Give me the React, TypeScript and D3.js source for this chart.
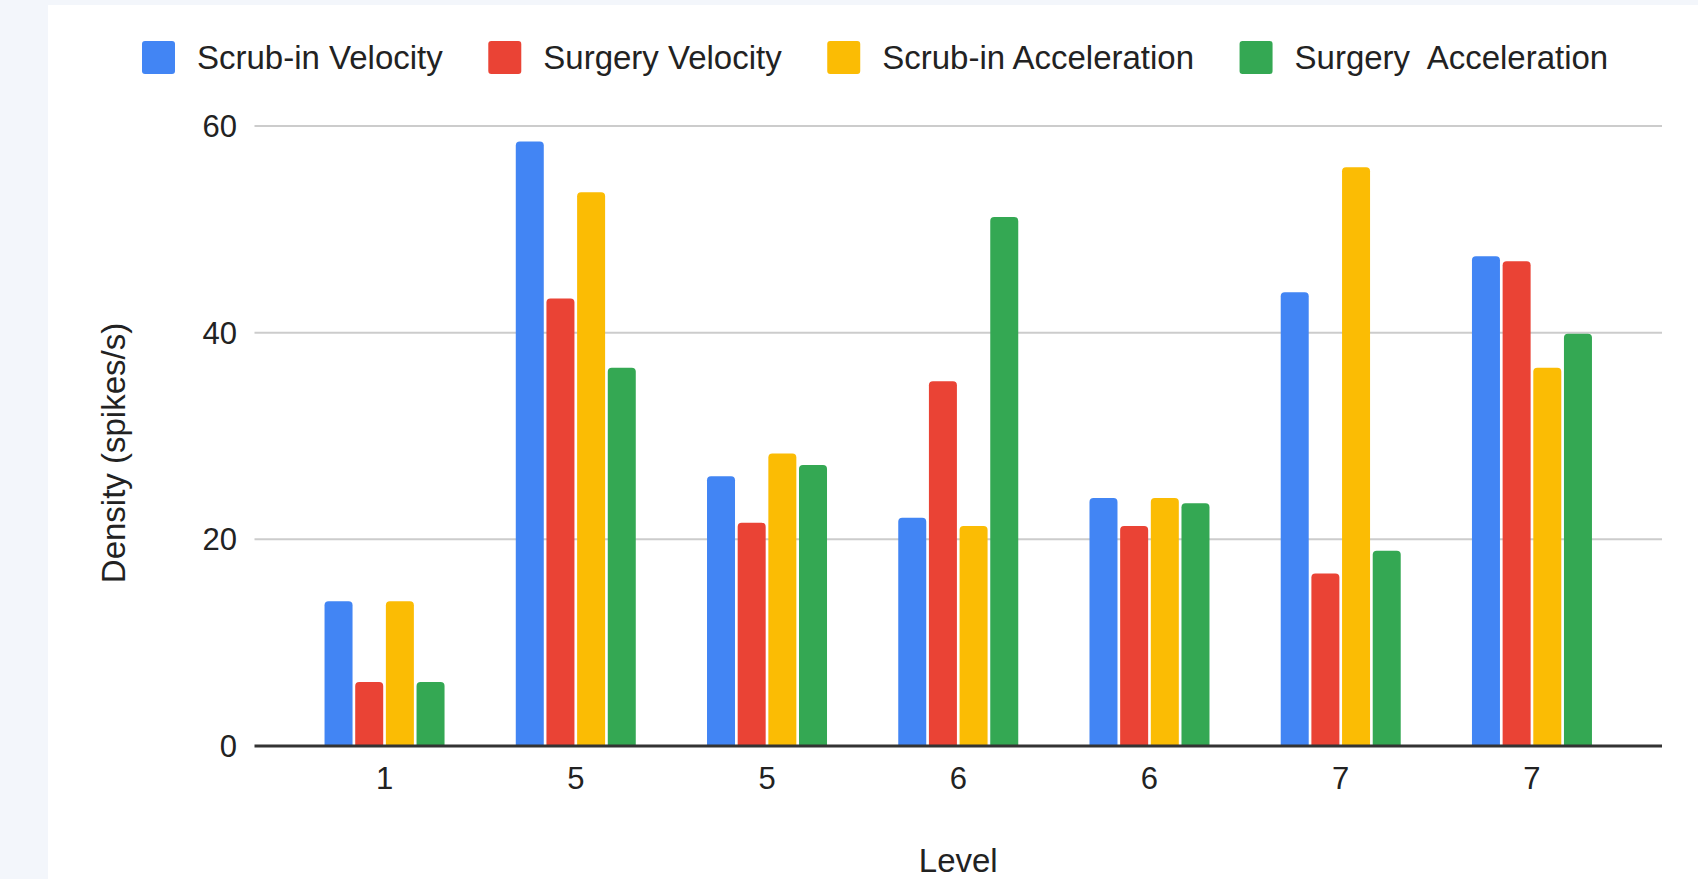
import React, { useEffect, useRef } from "react";
import * as d3 from "d3";

// Chart data
const levels = ["1", "5", "5", "6", "6", "7", "7"];
const seriesNames = [
  "Scrub-in Velocity",
  "Surgery Velocity",
  "Scrub-in Acceleration",
  "Surgery  Acceleration",
];
const seriesColors = ["#4285f4", "#ea4335", "#fbbc04", "#34a853"];
const scrubInVelocity = [14.0, 58.5, 26.1, 22.1, 24.0, 43.9, 47.4];
const surgeryVelocity = [6.2, 43.3, 21.6, 35.3, 21.3, 16.7, 46.9];
const scrubInAcceleration = [14.0, 53.6, 28.3, 21.3, 24.0, 56.0, 36.6];
const surgeryAcceleration = [6.2, 36.6, 27.2, 51.2, 23.5, 18.9, 39.9];
const yTicks = [0, 20, 40, 60];
const xTitle = "Level";
const yTitle = "Density (spikes/s)";

const W = 1698;
const H = 879;
const FONT = "Arial, 'Liberation Sans', Helvetica, sans-serif";

export default function App() {
  const ref = useRef<SVGSVGElement | null>(null);

  useEffect(() => {
    document.body.style.margin = "0";
    const svg = d3.select(ref.current);
    svg.selectAll("*").remove();

    const series = [scrubInVelocity, surgeryVelocity, scrubInAcceleration, surgeryAcceleration];

    // page background and white card
    svg.append("rect").attr("width", W).attr("height", H).attr("fill", "#f3f6fb");
    svg.append("rect").attr("x", 48).attr("y", 5).attr("width", W - 48).attr("height", H - 5).attr("fill", "#ffffff");

    const plot = { left: 254.5, right: 1662, top: 126, bottom: 746 };

    const y = d3.scaleLinear().domain([0, 60]).range([plot.bottom, plot.top]);
    const x0 = d3
      .scaleBand<number>()
      .domain(d3.range(levels.length))
      .range([plot.left, plot.right])
      .paddingInner(0)
      .paddingOuter(0.18);
    const groupWidth = 120;
    const x1 = d3
      .scaleBand<number>()
      .domain(d3.range(series.length))
      .range([0, groupWidth])
      .paddingInner(0.087)
      .paddingOuter(0);

    // gridlines
    svg
      .append("g")
      .selectAll("line")
      .data(yTicks.filter((t) => t !== 0))
      .join("line")
      .attr("x1", plot.left)
      .attr("x2", plot.right)
      .attr("y1", (d) => y(d))
      .attr("y2", (d) => y(d))
      .attr("stroke", "#cccccc")
      .attr("stroke-width", 2);

    // y tick labels
    svg
      .append("g")
      .selectAll("text")
      .data(yTicks)
      .join("text")
      .attr("x", 237)
      .attr("y", (d) => y(d))
      .attr("dy", "0.35em")
      .attr("text-anchor", "end")
      .attr("font-family", FONT)
      .attr("font-size", 31)
      .attr("fill", "#222")
      .text((d) => String(d));

    // bars with rounded top corners
    const r = 4;
    const barPath = (xl: number, w: number, yt: number, yb: number) => {
      const rr = Math.min(r, (yb - yt) / 2, w / 2);
      return `M${xl},${yb}V${yt + rr}Q${xl},${yt} ${xl + rr},${yt}H${xl + w - rr}Q${xl + w},${yt} ${xl + w},${yt + rr}V${yb}Z`;
    };
    const groups = svg
      .append("g")
      .selectAll("g")
      .data(levels.map((_, i) => i))
      .join("g")
      .attr("transform", (i) => `translate(${(x0(i) as number) + (x0.bandwidth() - groupWidth) / 2},0)`);
    groups
      .selectAll("path")
      .data((i) => series.map((s, k) => ({ k, v: s[i] })))
      .join("path")
      .attr("d", (d) => barPath(x1(d.k) as number, x1.bandwidth(), y(d.v), y(0)))
      .attr("fill", (d) => seriesColors[d.k]);

    // baseline
    svg
      .append("line")
      .attr("x1", plot.left)
      .attr("x2", plot.right)
      .attr("y1", y(0))
      .attr("y2", y(0))
      .attr("stroke", "#333333")
      .attr("stroke-width", 3);

    // x tick labels
    svg
      .append("g")
      .selectAll("text")
      .data(levels.map((l, i) => ({ l, i })))
      .join("text")
      .attr("x", (d) => (x0(d.i) as number) + x0.bandwidth() / 2)
      .attr("y", 789)
      .attr("text-anchor", "middle")
      .attr("font-family", FONT)
      .attr("font-size", 31)
      .attr("fill", "#222")
      .text((d) => d.l);

    // axis titles
    svg
      .append("text")
      .attr("x", (plot.left + plot.right) / 2)
      .attr("y", 872)
      .attr("text-anchor", "middle")
      .attr("font-family", FONT)
      .attr("font-size", 33)
      .attr("fill", "#222")
      .text(xTitle);
    svg
      .append("text")
      .attr("transform", `translate(125,453) rotate(-90)`)
      .attr("text-anchor", "middle")
      .attr("font-family", FONT)
      .attr("font-size", 33)
      .attr("fill", "#222")
      .text(yTitle);

    // legend
    const legend = svg.append("g");
    let lx = 142;
    seriesNames.forEach((name, k) => {
      legend
        .append("rect")
        .attr("x", lx)
        .attr("y", 41)
        .attr("width", 33)
        .attr("height", 33)
        .attr("rx", 3)
        .attr("fill", seriesColors[k]);
      const t = legend
        .append("text")
        .attr("x", lx + 55)
        .attr("y", 69)
        .attr("font-family", FONT)
        .attr("font-size", 33)
        .attr("fill", "#222")
        .style("white-space", "pre")
        .text(name);
      const tw = (t.node() as SVGTextElement).getComputedTextLength();
      lx = lx + 55 + tw + 45.5;
    });
  }, []);

  return (
    <svg
      ref={ref}
      width={W}
      height={H}
      style={{ position: "absolute", left: 0, top: 0, display: "block" }}
    />
  );
}
